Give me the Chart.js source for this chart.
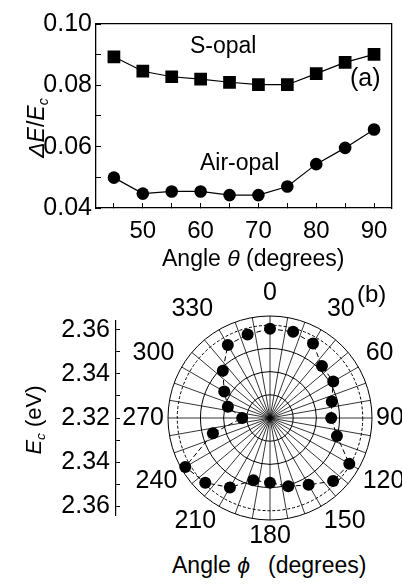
<!DOCTYPE html>
<html><head><meta charset="utf-8">
<script src="https://cdn.jsdelivr.net/npm/chart.js@4"></script>
<style>
html,body{margin:0;padding:0;background:#fff;}
#wrap{position:relative;width:402px;height:585px;overflow:hidden;font-family:'Liberation Sans',Arial,sans-serif;color:#000;}
canvas{position:absolute;}
.t{position:absolute;white-space:pre;line-height:1;}
.r{position:absolute;width:140px;height:30px;line-height:30px;text-align:center;white-space:pre;transform:rotate(-90deg);transform-origin:50% 50%;}
sub{font-size:0.62em;vertical-align:-0.28em;line-height:0;}
</style></head><body>
<div id="wrap">
<canvas id="ca" width="402" height="272" style="left:0;top:0"></canvas>
<canvas id="cb" width="362" height="270" style="left:89px;top:280px"></canvas>
<canvas id="cc" width="64" height="236" style="left:56px;top:300px"></canvas>
<div class="t" style="left:190px;top:34px;font-size:23px">S-opal</div>
<div class="t" style="left:200px;top:151px;font-size:23px">Air-opal</div>
<div class="t" style="left:350px;top:65px;font-size:25px">(a)</div>
<div class="t" style="left:357px;top:282px;font-size:24px">(b)</div>
<div class="r" style="left:-34px;top:113px;font-size:23px"><i>ΔE</i>/<i>E</i><sub><i>c</i></sub></div>
<div class="t" style="left:162px;top:247px;font-size:23px">Angle <i>θ</i> (degrees)</div>
<div class="r" style="left:-36px;top:405px;font-size:22px"><i>E</i><sub><i>c</i></sub> (eV)</div>
<div class="t" style="left:172px;top:554px;font-size:23px">Angle <i>ϕ</i><span style="margin-left:18px">(degrees)</span></div>
</div>
<script>
// ---- panel (a) data ----
const theta = [45, 50, 55, 60, 65, 70, 75, 80, 85, 90];
const sOpal = [0.0893, 0.0846, 0.0828, 0.0820, 0.0810, 0.0802, 0.0802, 0.0838, 0.0875, 0.0901];
const airOpal = [0.0499, 0.0447, 0.0454, 0.0454, 0.0442, 0.0442, 0.0470, 0.0543, 0.0596, 0.0656];
const thetaTicks = [45, 50, 55, 60, 65, 70, 75, 80, 85, 90];
const thetaTickLabels = ['50', '60', '70', '80', '90'];
const ratioTicks = [0.04, 0.05, 0.06, 0.07, 0.08, 0.09, 0.10];
const ratioTickLabels = ['0.04', '0.06', '0.08', '0.10'];

// ---- panel (b) data ----
const phi = [0, 15, 30, 45, 60, 75, 90, 105, 120, 135, 150, 165, 180, 195, 210, 225, 240, 255, 270, 285, 300, 315, 330, 345];
const Ec = [2.3585, 2.3585, 2.3571, 2.3517, 2.3515, 2.3476, 2.3464, 2.3499, 2.3595, 2.3585, 2.3533, 2.3505,
            2.3479, 2.3478, 2.3546, 2.3595, 2.3622, 2.3455, 2.3320, 2.3388, 2.3428, 2.3488, 2.3564, 2.3573];
const phiTickLabels = ['0', '30', '60', '90', '120', '150', '180', '210', '240', '270', '300', '330'];
const EcRings = [2.32, 2.33, 2.34, 2.35, 2.36, 2.364];
const EcAxisTicks = [-0.04, -0.03, -0.02, -0.01, 0, 0.01, 0.02, 0.03, 0.04]; // distance from centre (2.32 eV)
const EcAxisLabels = ['2.36', '2.34', '2.32', '2.34', '2.36'];

Chart.defaults.font.family = "'Liberation Sans', Arial, sans-serif";
Chart.defaults.color = '#000';

const thetaMin = 41.9, thetaMax = 93.0;
const ratioMin = 0.04, ratioMax = 0.10;

new Chart(document.getElementById('ca'), {
  type: 'line',
  data: {
    datasets: [
      { label: 'S-opal', data: theta.map((t, i) => ({ x: t, y: sOpal[i] })), borderColor: '#000', backgroundColor: '#000',
        borderWidth: 1.2, pointStyle: 'rect', pointRadius: 9, pointBorderWidth: 0, tension: 0 },
      { label: 'Air-opal', data: theta.map((t, i) => ({ x: t, y: airOpal[i] })), borderColor: '#000', backgroundColor: '#000',
        borderWidth: 1.2, pointStyle: 'circle', pointRadius: 6.3, pointBorderWidth: 0, tension: 0 }
    ]
  },
  options: {
    responsive: false, animation: false, events: [],
    layout: { padding: 0 },
    plugins: { legend: { display: false }, tooltip: { enabled: false } },
    scales: {
      x: {
        type: 'linear', position: 'bottom', min: thetaMin, max: thetaMax,
        afterBuildTicks: s => { s.ticks = thetaTicks.map(v => ({ value: v })); },
        afterFit: s => { s.height = 64; },
        ticks: { callback: v => thetaTickLabels.includes(String(v)) ? String(v) : '', autoSkip: false, maxRotation: 0, minRotation: 0,
                 padding: 14, font: { size: 24 }, color: '#000' },
        grid: { drawOnChartArea: false, drawTicks: true, tickLength: -5, color: '#000', lineWidth: 1 },
        border: { display: true, color: '#000', width: 1.3 }
      },
      y: {
        type: 'linear', position: 'left', min: ratioMin, max: ratioMax,
        afterBuildTicks: s => { s.ticks = ratioTicks.map(v => ({ value: v })); },
        afterFit: s => { s.width = 96; },
        ticks: { callback: v => ratioTickLabels.includes(v.toFixed(2)) ? v.toFixed(2) : '', autoSkip: false,
                 padding: 9, font: { size: 25 }, color: '#000' },
        grid: { drawOnChartArea: false, drawTicks: true, tickLength: -5, color: '#000', lineWidth: 1 },
        border: { display: true, color: '#000', width: 1.3 }
      },
      x2: {
        type: 'linear', position: 'top', min: thetaMin, max: thetaMax,
        ticks: { display: false }, grid: { display: true, drawOnChartArea: false, drawTicks: false },
        border: { display: true, color: '#000', width: 1.3 },
        afterFit: s => { s.height = 17; }
      },
      y2: {
        type: 'linear', position: 'right', min: ratioMin, max: ratioMax,
        ticks: { display: false }, grid: { display: true, drawOnChartArea: false, drawTicks: false },
        border: { display: true, color: '#000', width: 1.3 },
        afterFit: s => { s.width = 7; }
      }
    }
  }
});

// radar slots every 5 degrees so that data (15 deg), spokes (10 deg) and labels (30 deg) all fall on slots
const slots = [];
for (let a = 0; a < 360; a += 5) slots.push(String(a));
const polarData = slots.map(s => { const i = phi.indexOf(Number(s)); return i >= 0 ? Ec[i] : null; });

new Chart(document.getElementById('cb'), {
  type: 'radar',
  data: {
    labels: slots,
    datasets: [{ data: polarData, borderColor: '#000', backgroundColor: '#000', borderWidth: 1, borderDash: [5, 3],
                 pointRadius: 6, pointBackgroundColor: '#000', pointBorderWidth: 0, fill: false, spanGaps: true, tension: 0 }]
  },
  options: {
    responsive: false, animation: false, events: [],
    layout: { padding: 0 },
    plugins: { legend: { display: false }, tooltip: { enabled: false } },
    scales: {
      r: {
        min: EcRings[0], max: EcRings[EcRings.length - 1], startAngle: 0,
        afterBuildTicks: s => { s.ticks = EcRings.map(v => ({ value: v })); },
        ticks: { display: false },
        grid: { color: '#000', lineWidth: 1, circular: true },
        border: { dash: ctx => (ctx.tick && Math.abs(ctx.tick.value - 2.36) < 1e-9) ? [3, 2] : [] },
        angleLines: { display: true, color: '#000', lineWidth: ctx => (Number(slots[ctx.index]) % 10 === 0 ? 0.8 : 0) },
        pointLabels: {
          callback: l => phiTickLabels.includes(l) ? l : '',
          font: { size: 25, lineHeight: 0.8 }, color: '#000',
          padding: ctx => { const c = Math.cos(Number(slots[ctx.index]) * Math.PI / 180); return 4 + 9 * Math.max(0, c) + 2 * Math.max(0, -c); }
        }
      }
    }
  }
});

const half = EcRings[EcRings.length - 1] - EcRings[0];
new Chart(document.getElementById('cc'), {
  type: 'line',
  data: { datasets: [] },
  options: {
    responsive: false, animation: false, events: [],
    layout: { padding: { top: 16, bottom: 16, left: 0, right: 0 } },
    plugins: { legend: { display: false }, tooltip: { enabled: false } },
    scales: {
      x: { display: false },
      y: {
        type: 'linear', position: 'left', min: -half, max: half,
        afterBuildTicks: s => { s.ticks = EcAxisTicks.map(v => ({ value: v })); },
        afterFit: s => { s.width = 60; },
        ticks: { callback: (v, i) => (i % 2 === 0 ? EcAxisLabels[i / 2] : ''), padding: 6, font: { size: 25 }, color: '#000', autoSkip: false },
        grid: { drawTicks: false, drawOnChartArea: true, color: '#000', lineWidth: 1 },
        border: { display: true, color: '#000', width: 1.2 }
      }
    }
  }
});
</script>
</body></html>
